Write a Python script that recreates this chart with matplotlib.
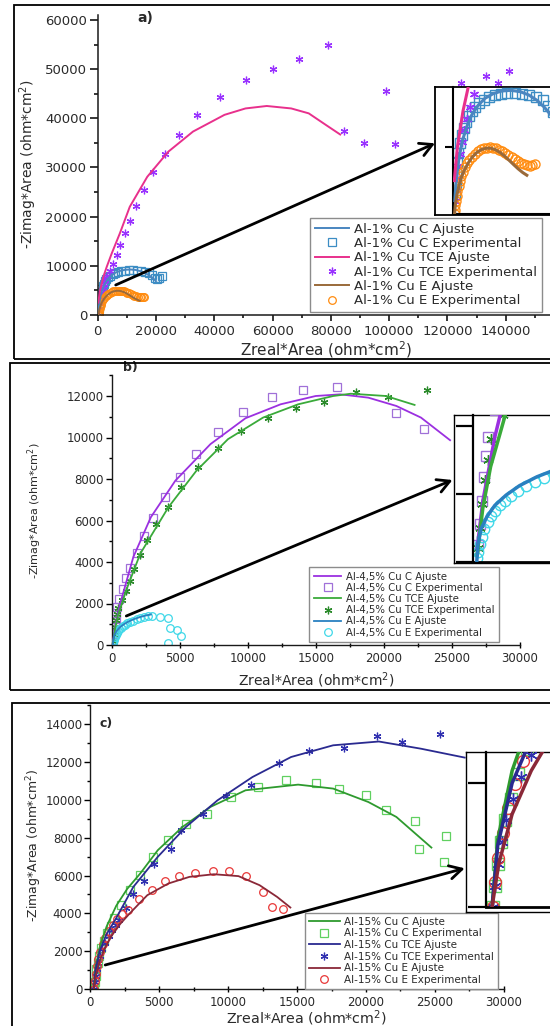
import matplotlib
matplotlib.use("Agg")
import matplotlib.pyplot as plt
from matplotlib.patches import Rectangle, FancyArrowPatch
from matplotlib.ticker import MultipleLocator, FixedLocator

plt.rcParams['font.family'] = ['DejaVu Sans']
plt.rcParams['mathtext.fontset'] = 'dejavusans'

W, H = 550, 1026
TXT = '#2a2a2a'
STAR = (6, 2, 0)

# ---------------- a) Al-1% Cu ----------------
a_C_fit_x = [300, 500, 800, 1200, 1800, 2600, 3600, 4800, 6200, 7800, 9500, 11300, 13100, 14800, 16400, 17800, 19000, 20000]
a_C_fit_y = [1000, 2200, 3300, 4400, 5500, 6500, 7400, 8100, 8650, 9000, 9200, 9250, 9150, 8900, 8500, 8000, 7450, 6900]
a_C_exp_x = [400, 480, 600, 780, 1000, 1300, 1650, 2050, 2500, 3000, 3600, 4300, 5100, 6000, 7000, 8100, 9300, 10600,
             12000, 13400, 14800, 16200, 17500, 18600, 19500, 20300, 21200, 22100]
a_C_exp_y = [1500, 2300, 3100, 3900, 4600, 5300, 5900, 6400, 6900, 7300, 7700, 8000, 8300, 8550, 8750, 8900, 9000, 9050,
             9050, 9000, 8900, 8750, 8500, 8100, 7600, 7300, 7500, 7900]
a_TCE_fit_x = [200, 800, 1900, 3100, 4800, 7600, 11000, 17000, 24200, 32700, 43500, 50700, 58000, 66400, 72400, 78400, 83200]
a_TCE_fit_y = [2500, 5000, 7700, 9800, 12500, 16600, 22000, 28100, 33200, 37300, 40700, 42000, 42500, 42000, 41000, 38600, 36700]
a_TCE_exp_x = [350, 500, 700, 950, 1250, 1650, 2100, 2600, 3300, 4100, 5300, 6500, 7800, 9300, 11100, 13200, 15800, 19000,
               23000, 28000, 34000, 42000, 51000, 60000, 69000, 79000, 84500, 91500, 99000, 102000, 124700, 133100, 137400, 141000]
a_TCE_exp_y = [1000, 1800, 2700, 3600, 4500, 5400, 6300, 7100, 8000, 9000, 10300, 12100, 14200, 16600, 19100, 22100, 25400, 29000,
               32800, 36700, 40600, 44400, 47800, 50000, 52000, 54900, 37400, 34900, 45600, 34700, 47200, 48600, 47200, 49700]
a_E_fit_x = [250, 400, 700, 1100, 1600, 2200, 2900, 3700, 4600, 5500, 6400, 7300, 8200, 9100, 10000, 10900, 11800, 12700, 13600, 14400]
a_E_fit_y = [0, 700, 1400, 2100, 2750, 3300, 3800, 4250, 4600, 4820, 4920, 4920, 4820, 4620, 4350, 4030, 3700, 3380, 3100, 2900]
a_E_exp_x = [300, 350, 420, 520, 650, 820, 1030, 1280, 1570, 1900, 2280, 2700, 3150, 3650, 4200, 4800, 5400, 6000, 6600,
             7200, 7800, 8400, 9000, 9600, 10200, 10800, 11400, 12000, 12600, 13200, 13800, 14400, 15000, 15500, 16000]
a_E_exp_y = [0, 300, 650, 1000, 1380, 1750, 2120, 2480, 2830, 3170, 3480, 3780, 4050, 4300, 4520, 4700, 4830, 4920, 4970,
             4980, 4960, 4900, 4810, 4690, 4550, 4400, 4240, 4090, 3950, 3820, 3720, 3650, 3620, 3650, 3720]

# ---------------- b) Al-4,5% Cu ----------------
b_C_fit_x = [100, 250, 560, 1590, 2880, 4680, 7260, 9840, 12420, 15000, 16800, 18870, 20930, 22740, 24880]
b_C_fit_y = [200, 900, 1840, 4240, 6160, 7920, 9680, 10930, 11600, 12000, 12080, 11920, 11520, 10960, 9870]
b_C_exp_x = [130, 170, 220, 280, 330, 375, 560, 820, 1070, 1380, 1850, 2360, 3060, 3910, 4990, 6230, 7780, 9660,
             11770, 14100, 16540, 20880, 22990]
b_C_exp_y = [250, 550, 900, 1250, 1550, 1840, 2240, 2720, 3230, 3730, 4430, 5230, 6110, 7120, 8110, 9200, 10270, 11250,
             11970, 12290, 12430, 11200, 10400]
b_TCE_fit_x = [100, 250, 450, 700, 1100, 2100, 4170, 6230, 8550, 11130, 13710, 16290, 17580, 20160, 22270]
b_TCE_fit_y = [100, 800, 1400, 1900, 2700, 4400, 6640, 8400, 9920, 10960, 11600, 12000, 12110, 12000, 11570]
b_TCE_exp_x = [120, 170, 230, 300, 380, 470, 760, 1020, 1330, 1660, 2100, 2620, 3260, 4120, 5120, 6360, 7830, 9530,
               11510, 13580, 15590, 17960, 20290, 23200]
b_TCE_exp_y = [200, 500, 850, 1200, 1500, 1800, 2160, 2590, 3090, 3680, 4320, 5040, 5840, 6670, 7600, 8560, 9490, 10320,
               10930, 11440, 11710, 12190, 11950, 12270]
b_E_fit_x = [90, 120, 200, 350, 560, 850, 1200, 1650, 2100, 2500, 2880]
b_E_fit_y = [0, 250, 480, 660, 830, 980, 1120, 1250, 1350, 1420, 1470]
b_E_exp_x = [100, 130, 170, 220, 290, 370, 460, 560, 680, 820, 980, 1160, 1360, 1590, 1840, 2100, 2380, 2650, 2950,
             3520, 4170, 4300, 4810, 5070, 4120]
b_E_exp_y = [50, 150, 260, 370, 480, 580, 670, 750, 830, 900, 970, 1040, 1110, 1170, 1230, 1280, 1330, 1380, 1420,
             1330, 1280, 800, 720, 450, 80]

# ---------------- c) Al-15% Cu ----------------
c_C_fit_x = [280, 400, 700, 1200, 1900, 2700, 3640, 4910, 6700, 8730, 11270, 15080, 17620, 20170, 22200, 23720, 24740]
c_C_fit_y = [0, 1100, 2200, 3300, 4400, 5300, 6110, 7340, 8570, 9630, 10510, 10810, 10600, 9890, 9100, 8130, 7480]
c_C_exp_x = [300, 340, 400, 470, 560, 680, 830, 1020, 1250, 1500, 1740, 2250, 2880, 3640, 4540, 5630, 6950, 8480,
             10250, 12160, 14190, 16350, 18010, 19990, 21430, 23550, 23850, 25810, 25630]
c_C_exp_y = [0, 350, 700, 1050, 1400, 1750, 2150, 2550, 2950, 3350, 3730, 4440, 5230, 6020, 6990, 7870, 8750, 9280,
             10160, 10690, 11080, 10900, 10580, 10240, 9490, 8890, 7430, 8100, 6720]
c_TCE_fit_x = [280, 400, 700, 1200, 1860, 3140, 4910, 6950, 9240, 11770, 14570, 17620, 20930, 23980, 27150]
c_TCE_fit_y = [0, 1000, 2000, 2900, 3700, 5400, 6990, 8570, 9980, 11210, 12270, 12890, 13090, 12710, 12240]
c_TCE_exp_x = [300, 340, 400, 480, 580, 720, 890, 1100, 1350, 1620, 1880, 2120, 2630, 3140, 3900, 4660, 5880, 6570,
               8220, 9870, 11650, 13680, 15850, 18380, 20800, 22580, 25380]
c_TCE_exp_y = [0, 350, 700, 1050, 1400, 1750, 2100, 2450, 2800, 3100, 3380, 3640, 4300, 5000, 5700, 6590, 7430, 8400,
               9280, 10200, 10780, 11960, 12570, 12770, 13370, 13070, 13470]
c_E_fit_x = [280, 420, 700, 1100, 1600, 2200, 2880, 4150, 5680, 7200, 8980, 10760, 12290, 13560, 14520]
c_E_fit_y = [0, 700, 1500, 2200, 2850, 3450, 4000, 4960, 5580, 5930, 6070, 5970, 5490, 4870, 4310]
c_E_exp_x = [290, 340, 410, 500, 610, 750, 920, 1120, 1360, 1640, 1960, 2330, 2750, 3520, 4460, 5430, 6440, 7590,
             8910, 10070, 11320, 12540, 13170, 14010]
c_E_exp_y = [0, 400, 800, 1200, 1600, 1980, 2360, 2720, 3060, 3380, 3680, 3950, 4170, 4740, 5230, 5720, 5970, 6140,
             6250, 6230, 5970, 5140, 4350, 4210]

# series per panel: (fit x, fit y, exp x, exp y, fit colour, exp colour, marker, legend stem)
panel_a = [
    (a_C_fit_x, a_C_fit_y, a_C_exp_x, a_C_exp_y, '#4a86c0', '#3c8dc4', 's', 'Al-1% Cu C'),
    (a_TCE_fit_x, a_TCE_fit_y, a_TCE_exp_x, a_TCE_exp_y, '#e8308c', '#9932ff', STAR, 'Al-1% Cu TCE'),
    (a_E_fit_x, a_E_fit_y, a_E_exp_x, a_E_exp_y, '#9a6a3a', '#ff8c10', 'o', 'Al-1% Cu E'),
]
panel_b = [
    (b_C_fit_x, b_C_fit_y, b_C_exp_x, b_C_exp_y, '#9b30e0', '#a070d8', 's', 'Al-4,5% Cu C'),
    (b_TCE_fit_x, b_TCE_fit_y, b_TCE_exp_x, b_TCE_exp_y, '#3aaa3a', '#2a8a2a', STAR, 'Al-4,5% Cu TCE'),
    (b_E_fit_x, b_E_fit_y, b_E_exp_x, b_E_exp_y, '#2a80c0', '#40d8e8', 'o', 'Al-4,5% Cu E'),
]
panel_c = [
    (c_C_fit_x, c_C_fit_y, c_C_exp_x, c_C_exp_y, '#2e9a2e', '#60d060', 's', 'Al-15% Cu C'),
    (c_TCE_fit_x, c_TCE_fit_y, c_TCE_exp_x, c_TCE_exp_y, '#2a2a90', '#3030b0', STAR, 'Al-15% Cu TCE'),
    (c_E_fit_x, c_E_fit_y, c_E_exp_x, c_E_exp_y, '#8a2838', '#e83838', 'o', 'Al-15% Cu E'),
]

fig = plt.figure(figsize=(W / 100, H / 100), dpi=100)
fig.patch.set_facecolor('white')


def box(l, t, r, b):
    return [l / W, 1 - b / H, (r - l) / W, (b - t) / H]


def fp(x, y):
    return (x / W, 1 - y / H)


def style_main(ax, xmaj, xmin, ymaj, ymin, fs, xdir, lw=1.0, ylen=4, ypad=1.5, xpad=3):
    for s in ('top', 'right'):
        ax.spines[s].set_visible(False)
    for s in ('left', 'bottom'):
        ax.spines[s].set_linewidth(lw)
        ax.spines[s].set_color('#1a1a1a')
    ax.xaxis.set_major_locator(MultipleLocator(xmaj))
    ax.xaxis.set_minor_locator(MultipleLocator(xmin))
    ax.yaxis.set_major_locator(MultipleLocator(ymaj))
    ax.yaxis.set_minor_locator(MultipleLocator(ymin))
    ax.tick_params(axis='x', which='major', direction=xdir, length=4, width=lw,
                   labelsize=fs, labelcolor=TXT, pad=xpad)
    ax.tick_params(axis='x', which='minor', direction=xdir, length=2.2, width=lw)
    ax.tick_params(axis='y', which='major', direction='out', length=ylen, width=lw,
                   labelsize=fs, labelcolor=TXT, pad=ypad)
    ax.tick_params(axis='y', which='minor', direction='out', length=ylen * 0.55, width=lw)
    ax.set_facecolor('none')


def draw(ax, series, ms, mew, lw, label=True):
    handles = []
    for fx, fy, ex, ey, fc, ec, mk, stem in series:
        ln, = ax.plot(fx, fy, '-', color=fc, lw=lw, zorder=3,
                      label=stem + ' Ajuste' if label else None)
        pt, = ax.plot(ex, ey, linestyle='none', marker=mk, ms=ms, mew=mew,
                      mfc='none', mec=ec, zorder=2,
                      label=stem + ' Experimental' if label else None)
        handles += [ln, pt]
    return handles


def make_inset(frame, inner, xlim, ylim, yticks, ticklen, spine_lw, bottom_lw, frame_lw):
    fr = fig.add_axes(box(*frame), zorder=3)
    fr.set_xticks([])
    fr.set_yticks([])
    fr.set_facecolor('white')
    for s in fr.spines.values():
        s.set_linewidth(frame_lw)
        s.set_color('black')
    ins = fig.add_axes(box(*inner), zorder=4)
    ins.set_facecolor('none')
    ins.set_xlim(*xlim)
    ins.set_ylim(*ylim)
    for s in ('top', 'right'):
        ins.spines[s].set_visible(False)
    ins.spines['left'].set_linewidth(spine_lw)
    ins.spines['bottom'].set_linewidth(bottom_lw)
    ins.set_xticks([])
    ins.yaxis.set_major_locator(FixedLocator(yticks))
    ins.tick_params(axis='y', which='major', direction='out', length=ticklen,
                    width=spine_lw, labelleft=False)
    ins.tick_params(axis='y', which='minor', length=0)
    return ins


def add_legend(ax, handles, anchor, fs, hl, pad, lsp):
    leg = ax.legend(handles=handles, loc='upper left', bbox_to_anchor=fp(*anchor),
                    bbox_transform=fig.transFigure, fontsize=fs, frameon=True,
                    fancybox=False, edgecolor='#8c8c8c', framealpha=1,
                    borderpad=pad, labelspacing=lsp, handlelength=hl,
                    handletextpad=0.4, borderaxespad=0, numpoints=1)
    leg.get_frame().set_linewidth(1.0)
    for t in leg.get_texts():
        t.set_color(TXT)
    return leg


def arrow(x0, y0, x1, y1):
    fig.add_artist(FancyArrowPatch(fp(x0, y0), fp(x1, y1), transform=fig.transFigure,
                                   arrowstyle='->,head_length=0.55,head_width=0.3',
                                   mutation_scale=16, lw=2.0, color='black',
                                   shrinkA=0, shrinkB=0, zorder=2.5))


def frame(l, t, r, b):
    x0, y0 = fp(l, b)
    fig.add_artist(Rectangle((x0, y0), (r - l) / W, (b - t) / H, transform=fig.transFigure,
                             fill=False, lw=1.3, ec='black', zorder=6, clip_on=False))


YLAB = '-Zimag*Area (ohm*cm$^2$)'
XLAB = 'Zreal*Area (ohm*cm$^2$)'

# ---------- panel a ----------
ax_a = fig.add_axes(box(97.7, 15, 549.5, 315))
ax_a.set_xlim(0, 155000)
ax_a.set_ylim(0, 61000)
style_main(ax_a, 20000, 10000, 10000, 5000, 9.5, 'out', lw=1.1, ylen=5.5, ypad=2, xpad=3.5)
h = draw(ax_a, panel_a, ms=5.5, mew=0.9, lw=1.4)
add_legend(ax_a, h, (310, 218), 9.5, 2.6, 0.35, 0.1)
fig.text(*fp(28, 164), YLAB, rotation=90, ha='center', va='center', fontsize=10, color=TXT)
fig.text(*fp(326, 350), XLAB, ha='center', va='center', fontsize=11, color=TXT)
fig.text(*fp(137, 18), 'a)', ha='left', va='center', fontsize=10, fontweight='bold', color=TXT)
ins_a = make_inset((435, 86.7, 560, 215), (453.3, 87, 560, 214), (0, 20900), (0, 9500),
                   [5000], 5.8, 1.5, 1.5, 1.3)
draw(ins_a, panel_a, ms=6.5, mew=1.0, lw=2.2, label=False)
arrow(115.7, 285, 435, 143.3)
frame(14, 5, 560, 359)

# ---------- panel b ----------
ax_b = fig.add_axes(box(111.7, 375.25, 519.7, 645))
ax_b.set_xlim(0, 30000)
ax_b.set_ylim(0, 13000)
style_main(ax_b, 5000, 2500, 2000, 1000, 8.5, 'inout', lw=1.0)
h = draw(ax_b, panel_b, ms=5.5, mew=0.9, lw=1.3)
add_legend(ax_b, h, (309, 567), 7.3, 2.75, 0.45, 0.12)
fig.text(*fp(35, 511), YLAB, rotation=90, ha='center', va='center', fontsize=8, color=TXT)
fig.text(*fp(316, 680), XLAB, ha='center', va='center', fontsize=10, color=TXT)
fig.text(*fp(123, 367), 'b)', ha='left', va='center', fontsize=9, fontweight='bold', color=TXT)
ins_b = make_inset((454, 415, 560, 563.3), (473.3, 415, 560, 561.7), (0, 2250), (0, 2160),
                   [0, 1000, 2000], 12, 1.6, 2.0, 1.0)
draw(ins_b, panel_b, ms=7.5, mew=1.0, lw=2.5, label=False)
arrow(126.3, 616, 452.5, 480)
frame(10, 363, 560, 690)

# ---------- panel c ----------
ax_c = fig.add_axes(box(90, 705.4, 504, 989))
ax_c.set_xlim(0, 30000)
ax_c.set_ylim(0, 15000)
style_main(ax_c, 5000, 2500, 2000, 1000, 8.5, 'inout', lw=1.0)
h = draw(ax_c, panel_c, ms=5.5, mew=0.9, lw=1.3)
add_legend(ax_c, h, (305, 913), 7.5, 3.0, 0.35, 0.16)
fig.text(*fp(34, 845), YLAB, rotation=90, ha='center', va='center', fontsize=9, color=TXT)
fig.text(*fp(306, 1018), XLAB, ha='center', va='center', fontsize=10.3, color=TXT)
fig.text(*fp(100, 723), 'c)', ha='left', va='center', fontsize=9, fontweight='bold', color=TXT)
ins_c = make_inset((465.8, 751.7, 560, 911.7), (485.8, 752, 560, 907.3), (150, 1700), (0, 2500),
                   [0, 1000, 2000], 13, 1.6, 2.0, 1.0)
draw(ins_c, panel_c, ms=8.5, mew=1.0, lw=2.5, label=False)
arrow(105.2, 965, 464.7, 868.3)
frame(12, 703, 560, 1030)

fig.savefig('out.png', dpi=100, facecolor='white')
